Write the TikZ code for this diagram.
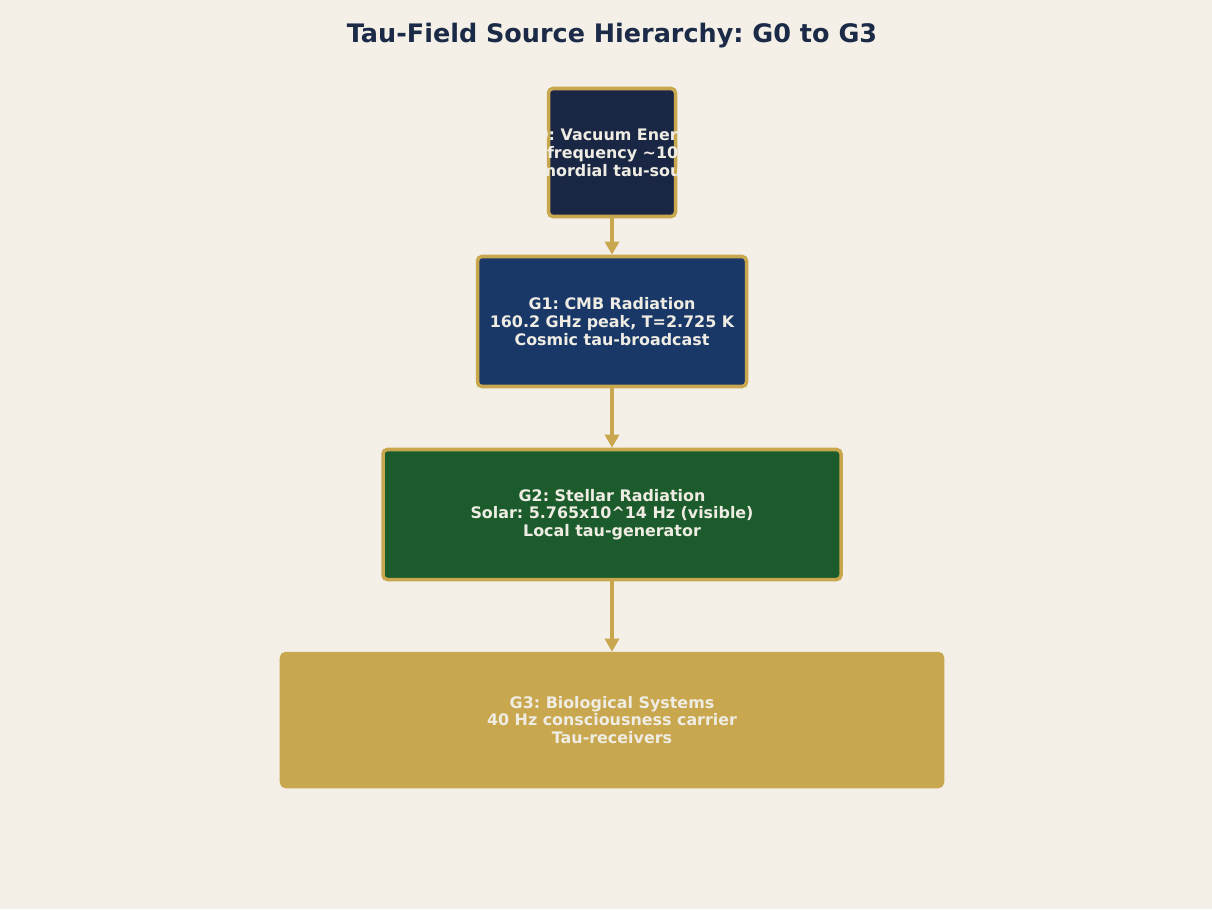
\documentclass[tikz,border=0pt]{standalone}
\usepackage{fontspec}
\setmainfont{DejaVu Sans}
\usepackage{xcolor}
\usepackage{tikz}
\usetikzlibrary{positioning}
\usetikzlibrary{arrows.meta}
\usetikzlibrary{calc}
\definecolor{paper}{HTML}{F4F0E8}
\definecolor{ink}{HTML}{1B2A47}
\definecolor{gold}{HTML}{C8A74E}
\definecolor{vacuum}{HTML}{1A2744}
\definecolor{cmb}{HTML}{193868}
\definecolor{stellar}{HTML}{1C5C2C}
\definecolor{pale}{HTML}{EFECE3}
\frenchspacing
\tikzstyle{level}=[rectangle,rounded corners=2.5pt,draw=gold,line width=2pt,inner sep=0pt,text=pale,font=\bfseries\fontsize{9.05}{10.1}\selectfont,align=center]
\tikzstyle{edge} = [draw,gold,line width=2.4pt,line cap=round,-{Triangle[length=7.5pt,width=8pt]}]
\tikzset{titletext/.style={font=\bfseries\fontsize{14.5}{16}\selectfont,text=ink}}

\begin{document}
\begin{tikzpicture}[x=0.02cm,y=-0.02cm]

   \fill[paper] (0,0) rectangle (1212,909);
   \useasboundingbox (0,0) rectangle (1212,909);

   \node[titletext] (title) at (612,36) {Tau-Field Source Hierarchy: G0 to G3};

  % the four levels, x/y/width/height/name/colour
  \foreach \x/\y/\w/\h/\name/\col in {612/152.5/127/128/G0/vacuum, 612/321.5/269/130/G1/cmb, 612/514.5/458/130/G2/stellar, 612/720/661/133/G3/gold}
          \node[level, fill=\col, minimum width=\w*0.02cm, minimum height=\h*0.02cm] (\name) at (\x,\y) {};

   \node[level,draw=none] (G1text) at (G1) {G1: CMB Radiation\\160.2 GHz peak, T=2.725 K\\Cosmic tau-broadcast};
   \node[level,draw=none] (G2text) at (G2) {G2: Stellar Radiation\\Solar: 5.765x10\^{}14 Hz (visible)\\Local tau-generator};
   \node[level,draw=none] (G3text) at (G3) {G3: Biological Systems\\40 Hz consciousness carrier\\Tau-receivers};

   % G0 text runs past its box
   \begin{scope}
   \clip[rounded corners=3pt] ($(G0.south west)+(-1.5,1.5)$) rectangle ($(G0.north east)+(1.5,-1.5)$);
   \node[level,draw=none] (G0text) at (G0) {G0: Vacuum Energy\\Planck frequency \textasciitilde10\^{}43 Hz\\Primordial tau-source};
   \end{scope}

  \foreach \source/\dest in {G0/G1,G1/G2,G2/G3}
         \path[edge] (\source.south) -- (\dest.north);

\end{tikzpicture}
\end{document}
